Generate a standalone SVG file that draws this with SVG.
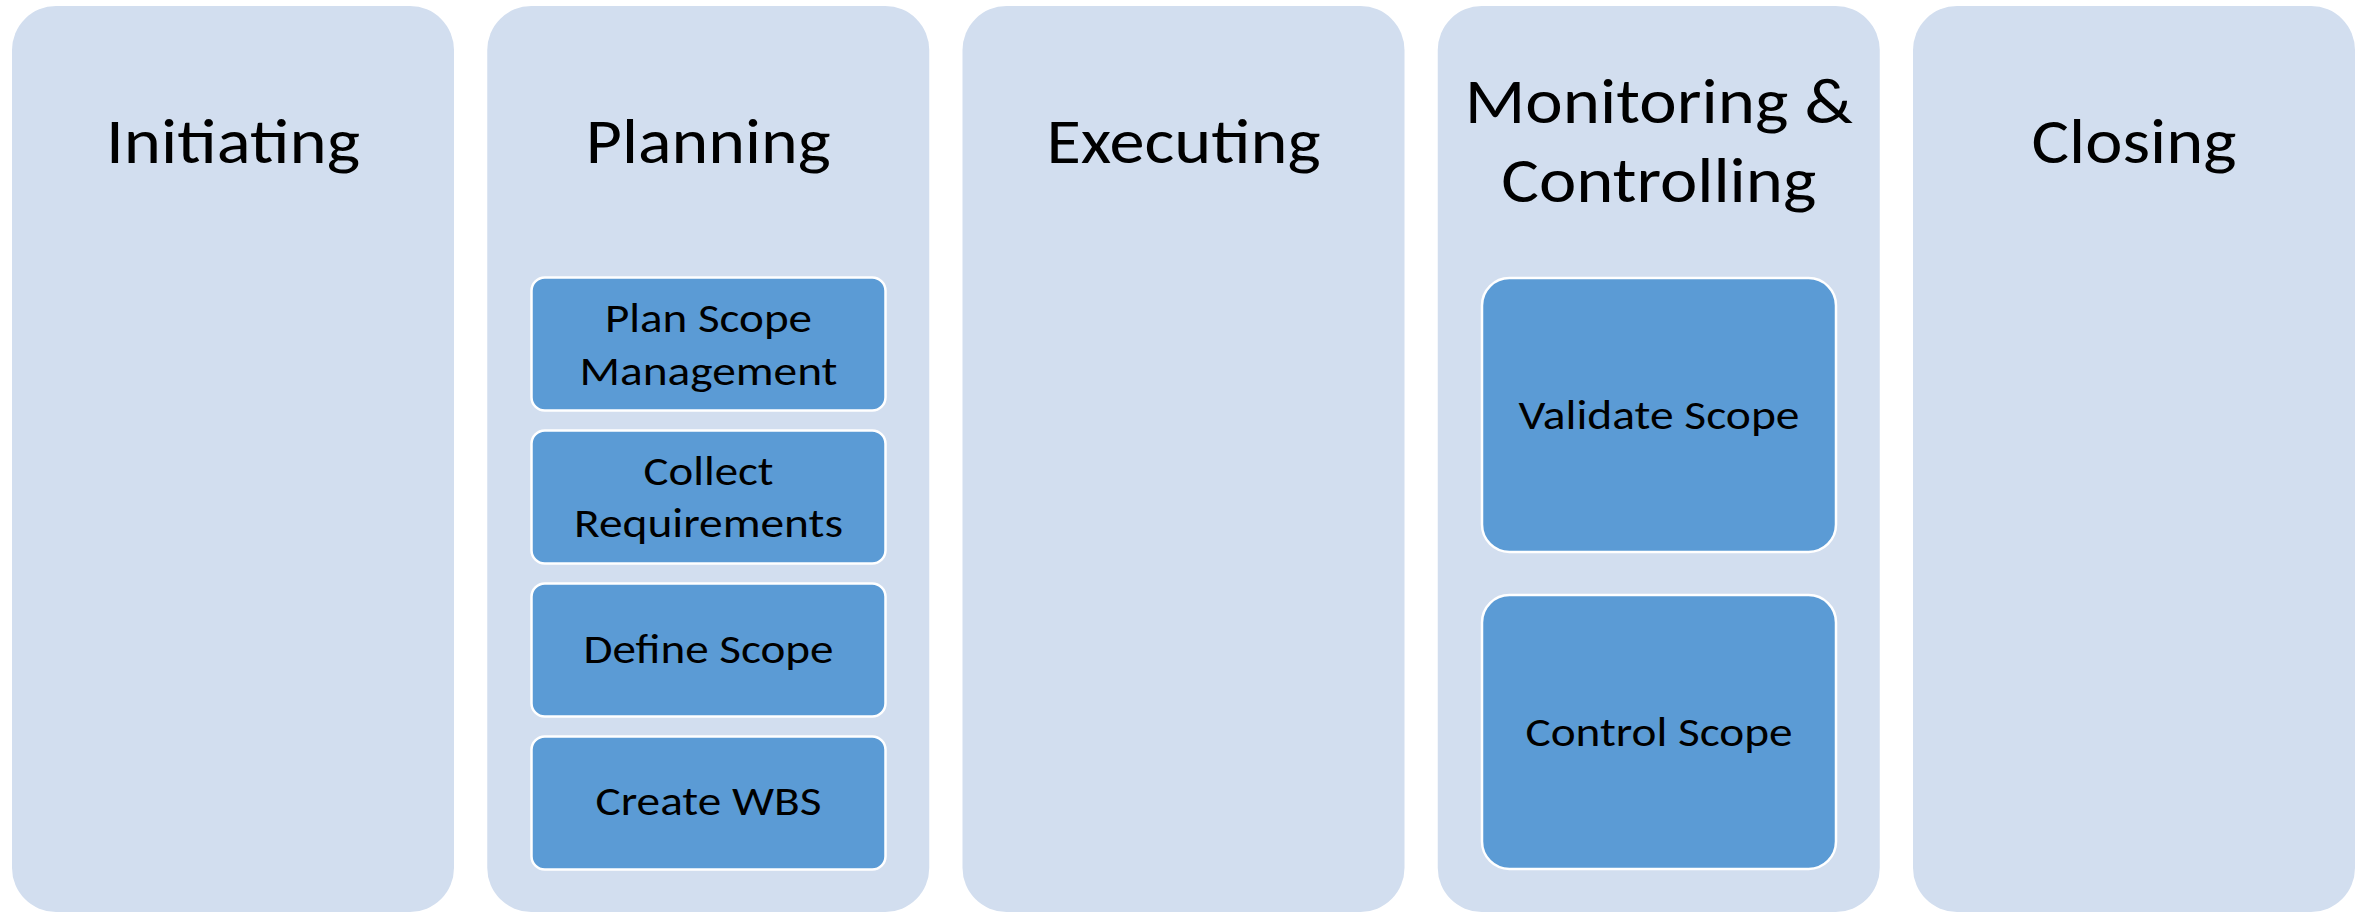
<svg xmlns="http://www.w3.org/2000/svg" width="2364" height="913" viewBox="0 0 2364 913">
<style>
.col{fill:#D2DEEF;}
.box{fill:#5B9BD5;stroke:#FFFFFF;stroke-width:2.5;}
.t{font-family:Carlito,Calibri,Lato,"Liberation Sans",sans-serif;fill:#000000;text-anchor:middle;}
.h{font-size:63px;}
.s{font-size:42px;}
</style>
<rect width="2364" height="913" fill="#FFFFFF"/>
<g id="initiating">
<rect class="col" x="12" y="6" width="442" height="906" rx="44" ry="44"/>
<text class="t h" x="233" y="163" textLength="254" lengthAdjust="spacingAndGlyphs">Initiating</text>
</g>
<g id="planning">
<rect class="col" x="487.25" y="6" width="442" height="906" rx="44" ry="44"/>
<text class="t h" x="708.25" y="163" textLength="245" lengthAdjust="spacingAndGlyphs">Planning</text>
</g>
<g id="plan-scope-management">
<rect class="box" x="531.5" y="277.5" width="354" height="133" rx="13.3" ry="13.3"/>
<text class="t s" x="708.5" y="332" textLength="207" lengthAdjust="spacingAndGlyphs">Plan Scope</text>
<text class="t s" x="708.5" y="385" textLength="258" lengthAdjust="spacingAndGlyphs">Management</text>
</g>
<g id="collect-requirements">
<rect class="box" x="531.5" y="430.5" width="354" height="133" rx="13.3" ry="13.3"/>
<text class="t s" x="708.5" y="485" textLength="130" lengthAdjust="spacingAndGlyphs">Collect</text>
<text class="t s" x="708.5" y="537" textLength="269" lengthAdjust="spacingAndGlyphs">Requirements</text>
</g>
<g id="define-scope">
<rect class="box" x="531.5" y="583.5" width="354" height="133" rx="13.3" ry="13.3"/>
<text class="t s" x="708.5" y="663" textLength="250" lengthAdjust="spacingAndGlyphs">Define Scope</text>
</g>
<g id="create-wbs">
<rect class="box" x="531.5" y="736.5" width="354" height="133" rx="13.3" ry="13.3"/>
<text class="t s" x="708.5" y="815" textLength="226" lengthAdjust="spacingAndGlyphs">Create WBS</text>
</g>
<g id="executing">
<rect class="col" x="962.5" y="6" width="442" height="906" rx="44" ry="44"/>
<text class="t h" x="1183.5" y="163" textLength="274" lengthAdjust="spacingAndGlyphs">Executing</text>
</g>
<g id="monitoring-controlling">
<rect class="col" x="1437.75" y="6" width="442" height="906" rx="44" ry="44"/>
<text class="t h" x="1658.75" y="123" textLength="388" lengthAdjust="spacingAndGlyphs">Monitoring &amp;</text>
<text class="t h" x="1658.75" y="202" textLength="315" lengthAdjust="spacingAndGlyphs">Controlling</text>
</g>
<g id="validate-scope">
<rect class="box" x="1482" y="278" width="354" height="274" rx="27.4" ry="27.4"/>
<text class="t s" x="1659" y="429" textLength="281" lengthAdjust="spacingAndGlyphs">Validate Scope</text>
</g>
<g id="control-scope">
<rect class="box" x="1482" y="595" width="354" height="274" rx="27.4" ry="27.4"/>
<text class="t s" x="1659" y="746" textLength="267" lengthAdjust="spacingAndGlyphs">Control Scope</text>
</g>
<g id="closing">
<rect class="col" x="1913" y="6" width="442" height="906" rx="44" ry="44"/>
<text class="t h" x="2134" y="163" textLength="205" lengthAdjust="spacingAndGlyphs">Closing</text>
</g>
<g id="connectors"></g>
</svg>
